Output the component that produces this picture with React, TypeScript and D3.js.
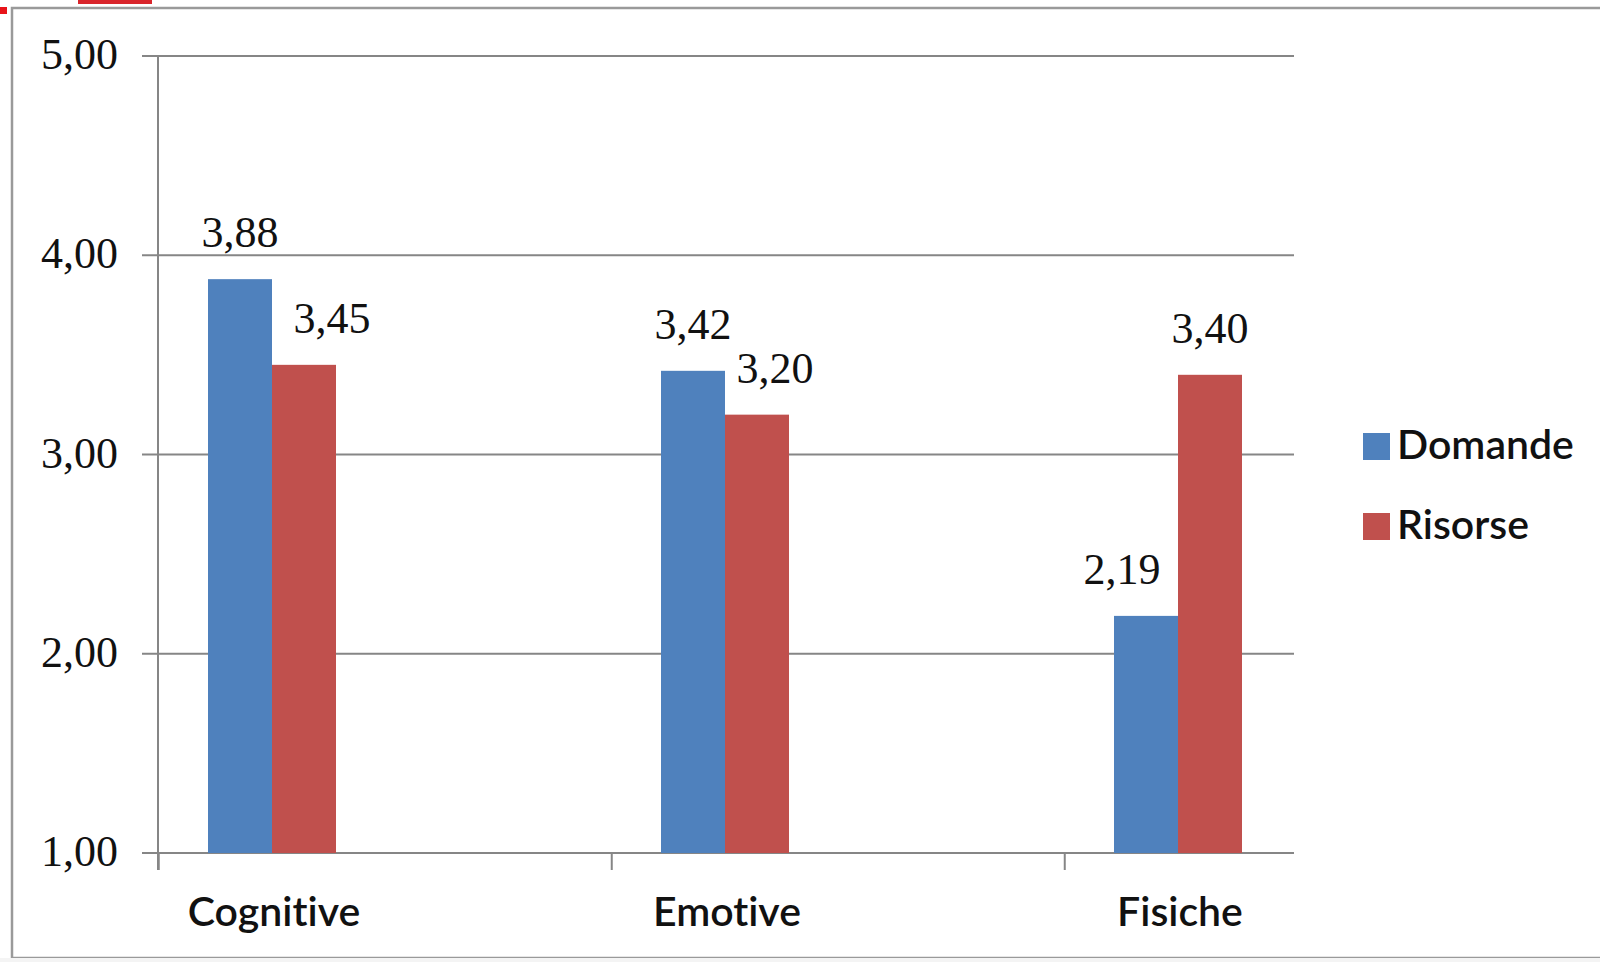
import React from "react";
import * as d3 from "d3";

const categories = ["Cognitive", "Emotive", "Fisiche"];
const seriesNames = ["Domande", "Risorse"];
const domande = [3.88, 3.42, 2.19];
const risorse = [3.45, 3.2, 3.4];
const yTicks = [1, 2, 3, 4, 5];
const labelDx = [
  [0, 28],
  [0, 18],
  [-24, 0],
];

const COLORS = ["#4F81BD", "#C0504D"];
const W = 1600;
const H = 962;

const fmt = (v: number) => v.toFixed(2).replace(".", ",");

export default function App() {
  const y = d3.scaleLinear().domain([1, 5]).range([853, 56]);
  const x = d3.scalePoint<string>().domain(categories).range([272, 1178]);
  const step = x.step();
  const barW = 64;
  const axisX = 158;
  const plotRight = 1294;
  const series = [domande, risorse];
  const serif = "'Liberation Serif', 'Times New Roman', serif";
  const sans = "Lato, 'Open Sans', sans-serif";
  const noLig = { fontVariantLigatures: "none" as const, fontFeatureSettings: "'liga' 0, 'clig' 0" };

  return (
    <svg
      width={W}
      height={H}
      style={{ position: "absolute", left: 0, top: 0, display: "block", background: "#fff" }}
    >
      {/* decorative artifacts at top-left */}
      <rect x={0} y={7} width={7} height={7} fill="#e8141a" />
      <rect x={78} y={0} width={74} height={4} fill="#d9252b" />
      {/* chart frame */}
      <rect x={12} y={8} width={1600} height={950} fill="#fff" stroke="#9a9a9a" strokeWidth={2.5} />
      <rect x={0} y={958} width={W} height={4} fill="#f4f4f4" />

      {/* gridlines and y ticks */}
      {yTicks.map((t) => (
        <g key={t}>
          <line x1={axisX - 16} x2={plotRight} y1={y(t)} y2={y(t)} stroke="#868686" strokeWidth={2} />
          <text
            x={118}
            y={y(t) + 13}
            textAnchor="end"
            fontFamily={serif}
            fontSize={44}
            fill="#111"
          >
            {fmt(t)}
          </text>
        </g>
      ))}
      {/* y axis */}
      <line x1={axisX} x2={axisX} y1={y(5)} y2={y(1) + 17} stroke="#868686" strokeWidth={2} />
      {/* x ticks */}
      {categories.map((c) => {
        const tx = (x(c) as number) - step / 4;
        return <line key={c} x1={tx} x2={tx} y1={y(1)} y2={y(1) + 17} stroke="#868686" strokeWidth={2} />;
      })}

      {/* bars */}
      {categories.map((c, i) =>
        series.map((s, j) => {
          const bx = (x(c) as number) - barW + j * barW;
          return (
            <rect
              key={c + j}
              x={bx}
              y={y(s[i])}
              width={barW}
              height={y(1) - y(s[i])}
              fill={COLORS[j]}
            />
          );
        })
      )}

      {/* data labels */}
      {categories.map((c, i) =>
        series.map((s, j) => {
          const cx = (x(c) as number) - barW / 2 + j * barW + labelDx[i][j];
          return (
            <text
              key={"l" + c + j}
              x={cx}
              y={y(s[i]) - 32}
              textAnchor="middle"
              fontFamily={serif}
              fontSize={44}
              fill="#111"
            >
              {fmt(s[i])}
            </text>
          );
        })
      )}

      {/* category labels */}
      {categories.map((c) => (
        <text
          key={"c" + c}
          x={(x(c) as number) + 2}
          y={926}
          textAnchor="middle"
          fontFamily={sans}
          fontSize={41}
          fontWeight={600}
          fill="#111"
          style={noLig}
        >
          {c}
        </text>
      ))}

      {/* legend */}
      {seriesNames.map((n, j) => (
        <g key={n} transform={`translate(1363, ${433 + j * 80})`}>
          <rect x={0} y={0} width={27} height={27} fill={COLORS[j]} />
          <text x={34} y={26} fontFamily={sans} fontSize={41} fontWeight={600} fill="#111" style={noLig}>
            {n}
          </text>
        </g>
      ))}
    </svg>
  );
}
